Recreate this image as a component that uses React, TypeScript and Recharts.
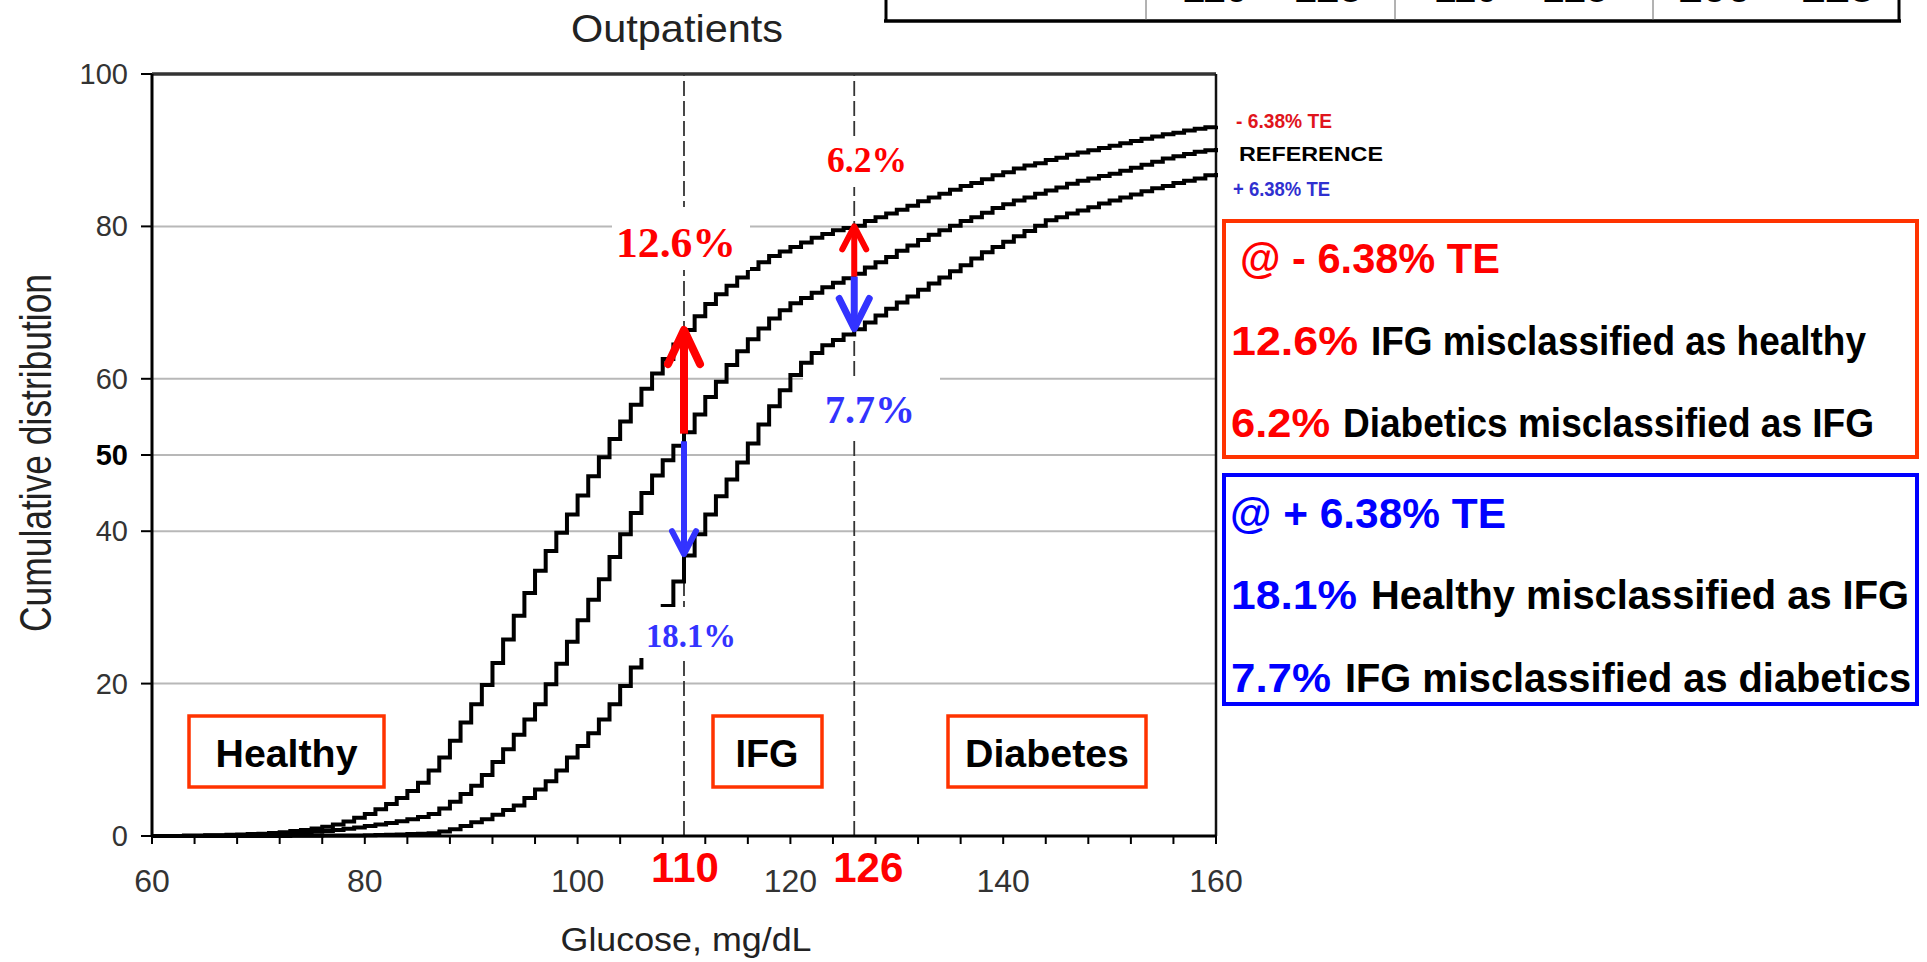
import React from 'react';
import { LineChart, Line, XAxis, YAxis, CartesianGrid, ReferenceLine } from 'recharts';

const SANS = "'Liberation Sans', Arial, Helvetica, sans-serif";
const SERIF = "'Liberation Serif', 'Times New Roman', serif";

// Glucose categories (mg/dL), one step per 1 mg/dL
const glucose = Array.from({ length: 101 }, (_, i) => 60 + i);

// Cumulative distribution (%), index i <-> glucose 60 + i
const minusTE = [
  0, 0, 0, 0.05, 0.05, 0.1, 0.1, 0.15, 0.2, 0.25,
  0.3, 0.4, 0.5, 0.65, 0.8, 1.0, 1.2, 1.5, 1.9, 2.4,
  2.9, 3.5, 4.2, 5.0, 5.9, 7.0, 8.6, 10.3, 12.5, 14.9,
  17.3, 19.8, 22.7, 25.8, 28.9, 31.9, 34.8, 37.4, 39.8, 42.2,
  44.7, 47.2, 49.7, 52.1, 54.4, 56.6, 58.7, 60.7, 62.6, 64.5,
  66.4, 68.2, 69.8, 71.1, 72.2, 73.3, 74.4, 75.3, 76.1, 76.7,
  77.3, 77.9, 78.5, 79.0, 79.5, 79.8, 80.1, 80.7, 81.2, 81.7,
  82.2, 82.7, 83.3, 83.8, 84.3, 84.8, 85.3, 85.7, 86.2, 86.7,
  87.1, 87.6, 88.0, 88.3, 88.7, 89.0, 89.4, 89.7, 90.0, 90.3,
  90.6, 90.9, 91.2, 91.5, 91.8, 92.1, 92.3, 92.6, 92.8, 93.0,
  93.2,
];
const reference = [
  0, 0, 0, 0, 0, 0.05, 0.05, 0.1, 0.1, 0.15,
  0.2, 0.25, 0.3, 0.35, 0.45, 0.55, 0.65, 0.8, 0.95, 1.1,
  1.3, 1.5, 1.7, 1.95, 2.2, 2.5, 2.9, 3.6, 4.5, 5.5,
  6.6, 8.0, 9.7, 11.4, 13.3, 15.3, 17.3, 19.9, 22.6, 25.5,
  28.3, 31.0, 33.7, 36.6, 39.6, 42.4, 45.0, 47.3, 49.3, 51.2,
  53.0, 55.3, 57.6, 59.6, 61.8, 63.6, 65.2, 66.6, 67.9, 69.0,
  69.9, 70.6, 71.3, 72.0, 72.6, 73.2, 73.8, 74.6, 75.3, 76.0,
  76.8, 77.5, 78.2, 78.9, 79.5, 80.1, 80.7, 81.2, 81.8, 82.4,
  82.9, 83.4, 83.8, 84.3, 84.7, 85.1, 85.6, 86.0, 86.3, 86.6,
  86.9, 87.3, 87.7, 88.1, 88.5, 88.9, 89.2, 89.5, 89.8, 90.0,
  90.3,
];
const plusTE = [
  0, 0, 0, 0, 0, 0, 0, 0, 0, 0,
  0, 0, 0, 0.02, 0.03, 0.04, 0.05, 0.06, 0.07, 0.08,
  0.1, 0.12, 0.15, 0.2, 0.25, 0.3, 0.35, 0.6, 0.9, 1.3,
  1.8, 2.2, 2.8, 3.4, 4.0, 5.0, 6.1, 7.2, 8.6, 10.3,
  11.8, 13.5, 15.3, 17.3, 19.7, 22.1, 24.6, 27.2, 30.2, 33.4,
  36.8, 39.6, 42.2, 44.6, 46.8, 49.0, 51.5, 54.0, 56.4, 58.5,
  60.5, 62.1, 63.4, 64.4, 65.1, 65.8, 66.5, 67.4, 68.3, 69.2,
  70.0, 70.8, 71.7, 72.5, 73.3, 74.1, 74.9, 75.8, 76.6, 77.3,
  78.0, 78.7, 79.4, 80.1, 80.8, 81.2, 81.7, 82.1, 82.5, 83.0,
  83.4, 83.8, 84.2, 84.6, 85.0, 85.3, 85.7, 86.0, 86.3, 86.7,
  87.0,
];

const xTicks = [60, 64, 68, 72, 76, 80, 84, 88, 92, 96, 100, 104, 108, 112, 116, 120, 124, 128, 132, 136, 140, 144, 148, 152, 156, 160];
const xLabelTicks = [60, 80, 100, 120, 140, 160];
const yTicks = [0, 20, 40, 50, 60, 80, 100];
const cutoffs = [110, 126];
const cutoffLabels = ['110', '126'];
const cutoffLabelShift = [1, 14];

// Misclassification arrows: glucose cut-off, from curve value to curve value (%)
const arrows = [
  { x: 110, from: 52.8, to: 66.4, color: '#ff0000', w: 8, hw: 16, hh: 34 },
  { x: 110, from: 51.8, to: 37.0, color: '#3333ff', w: 6, hw: 12, hh: 23 },
  { x: 126, from: 73.4, to: 80.0, color: '#ff0000', w: 6, hw: 12, hh: 23 },
  { x: 126, from: 73.4, to: 66.6, color: '#3333ff', w: 7, hw: 15, hh: 30 },
];

const data = glucose.map((g, i) => ({ g, minus: minusTE[i], ref: reference[i], plus: plusTE[i] }));

const makeArrow = (color: string, w: number, hw: number, hh: number) => (p: any) => {
  const { x1, y1, x2, y2 } = p;
  const dir = y2 < y1 ? 1 : -1;
  return (
    <g>
      <line x1={x1} y1={y1} x2={x2} y2={y2 + dir * w * 0.4} stroke={color} strokeWidth={w} />
      <polyline
        points={`${x2 - hw},${y2 + dir * hh} ${x2},${y2} ${x2 + hw},${y2 + dir * hh}`}
        fill="none"
        stroke={color}
        strokeWidth={w}
        strokeLinecap="round"
        strokeLinejoin="round"
      />
    </g>
  );
};

const YTick = (props: any) => {
  const { x, y, payload } = props;
  const bold = payload.value === 50;
  return (
    <text x={x} y={y} dy={10} textAnchor="end" fontFamily={SANS} fontSize={29}
      fontWeight={bold ? 'bold' : 'normal'} fill={bold ? '#000' : '#333'}>
      {payload.value}
    </text>
  );
};

const XTick = (props: any) => {
  const { x, y, payload } = props;
  if (!xLabelTicks.includes(payload.value)) return <g />;
  return (
    <text x={x} y={y} dy={22} textAnchor="middle" fontFamily={SANS} fontSize={32} fill="#333">
      {payload.value}
    </text>
  );
};

const cutLabel = (text: string, shift: number) => (p: any) => {
  const vb = p.viewBox || {};
  return (
    <text x={(vb.x || 0) + shift} y={(vb.y || 0) + (vb.height || 0) + 46} textAnchor="middle"
      fontFamily={SANS} fontSize={42} fontWeight="bold" fill="#ff0000">
      {text}
    </text>
  );
};

const T = ({ x, y, size, color, children, len, anchor = 'start', weight = 'bold', family = SANS }: any) => (
  <text x={x} y={y} fontFamily={family} fontSize={size} fontWeight={weight} fill={color}
    textAnchor={anchor} textLength={len} lengthAdjust="spacingAndGlyphs">
    {children}
  </text>
);

const Overlay = () => (
  <svg width={1927} height={962} style={{ position: 'absolute', left: 0, top: 0, pointerEvents: 'none' }}>
    {/* cut-off table fragment at top right */}
    <line x1={886} y1={0} x2={886} y2={22} stroke="#000" strokeWidth={3} />
    <line x1={1899} y1={0} x2={1899} y2={22} stroke="#000" strokeWidth={3} />
    <line x1={884} y1={21} x2={1901} y2={21} stroke="#000" strokeWidth={3.5} />
    <line x1={1146} y1={0} x2={1146} y2={20} stroke="#666" strokeWidth={1} />
    <line x1={1395} y1={0} x2={1395} y2={20} stroke="#666" strokeWidth={1} />
    <line x1={1653} y1={0} x2={1653} y2={20} stroke="#666" strokeWidth={1} />
    <T x={1272} y={2} size={40} color="#000" anchor="middle" len={180}>110 – 125</T>
    <T x={1521} y={2} size={40} color="#000" anchor="middle" len={174}>110 – 125</T>
    <T x={1776} y={2} size={40} color="#000" anchor="middle" len={197}>100 – 125</T>

    {/* title and axis titles */}
    <T x={677} y={42} size={39} color="#222" anchor="middle" weight="normal" len={212}>Outpatients</T>
    <text x={51} y={453} transform="rotate(-90 51 453)" textAnchor="middle" fontFamily={SANS}
      fontSize={44} fill="#222" textLength={358} lengthAdjust="spacingAndGlyphs">Cumulative distribution</text>
    <T x={686} y={951} size={34} color="#222" anchor="middle" weight="normal" len={251}>Glucose, mg/dL</T>

    {/* series labels */}
    <T x={1236} y={128} size={21} color="#e0141c" len={96}>- 6.38% TE</T>
    <T x={1239} y={161} size={21} color="#000" len={144}>REFERENCE</T>
    <T x={1233} y={196} size={21} color="#3030d0" len={97}>+ 6.38% TE</T>

    {/* region boxes */}
    <rect x={189} y={716} width={195} height={71} fill="#fff" stroke="#ff3300" strokeWidth={3.5} />
    <T x={286.5} y={767} size={39} color="#000" anchor="middle" len={142}>Healthy</T>
    <rect x={713} y={716} width={109} height={71} fill="#fff" stroke="#ff3300" strokeWidth={3.5} />
    <T x={767} y={767} size={39} color="#000" anchor="middle" len={63}>IFG</T>
    <rect x={948} y={716} width={198} height={71} fill="#fff" stroke="#ff3300" strokeWidth={3.5} />
    <T x={1047} y={767} size={39} color="#000" anchor="middle" len={164}>Diabetes</T>

    {/* percentage labels with white backgrounds */}
    <rect x={612} y={207} width={138} height={63} fill="#fff" />
    <T x={676} y={257} size={42} color="#ff0000" anchor="middle" family={SERIF} len={120}>12.6%</T>
    <rect x={822} y={136} width={90} height={51} fill="#fff" />
    <T x={867} y={172} size={35} color="#ff0000" anchor="middle" family={SERIF} len={80}>6.2%</T>
    <rect x={803} y={377} width={137} height={60} fill="#fff" />
    <T x={870} y={423} size={40} color="#3333ff" anchor="middle" family={SERIF} len={90}>7.7%</T>
    <rect x={629} y={607} width={121} height={51} fill="#fff" />
    <T x={691} y={647} size={34} color="#3333ff" anchor="middle" family={SERIF} len={90}>18.1%</T>

    {/* summary boxes on the right */}
    <rect x={1224} y={221} width={693} height={236} fill="#fff" stroke="#ff3300" strokeWidth={4} />
    <T x={1240} y={273} size={42} color="#ff0000" len={260}>@ - 6.38% TE</T>
    <T x={1231} y={355} size={41} color="#ff0000" len={127}>12.6%</T>
    <T x={1371} y={355} size={40} color="#000" len={495}>IFG misclassified as healthy</T>
    <T x={1231} y={437} size={41} color="#ff0000" len={99}>6.2%</T>
    <T x={1343} y={437} size={40} color="#000" len={531}>Diabetics misclassified as IFG</T>

    <rect x={1224} y={475} width={693} height={229} fill="#fff" stroke="#0000ff" strokeWidth={4} />
    <T x={1230} y={528} size={42} color="#0000ff" len={276}>@ + 6.38% TE</T>
    <T x={1231} y={609} size={41} color="#0000ff" len={126}>18.1%</T>
    <T x={1371} y={609} size={40} color="#000" len={538}>Healthy misclassified as IFG</T>
    <T x={1231} y={692} size={41} color="#0000ff" len={100}>7.7%</T>
    <T x={1345} y={692} size={40} color="#000" len={566}>IFG misclassified as diabetics</T>
  </svg>
);

export default function App() {
  return (
    <div style={{ position: 'absolute', left: 0, top: 0, width: 1927, height: 962, background: '#fff' }}>
      <LineChart width={1927} height={962} data={data} margin={{ top: 74, right: 711, bottom: 0, left: 0 }}>
        <CartesianGrid vertical={false} stroke="#b8b8b8" strokeWidth={2} />
        <XAxis
          dataKey="g"
          type="number"
          domain={[60, 160]}
          ticks={xTicks}
          interval={0}
          height={126}
          axisLine={{ stroke: '#000', strokeWidth: 3 }}
          tickLine={{ stroke: '#000', strokeWidth: 2 }}
          tickSize={8}
          tickMargin={26}
          tick={<XTick />}
        />
        <YAxis
          type="number"
          domain={[0, 100]}
          ticks={yTicks}
          interval={0}
          width={152}
          axisLine={{ stroke: '#000', strokeWidth: 3 }}
          tickLine={{ stroke: '#000', strokeWidth: 2 }}
          tickSize={11}
          tickMargin={13}
          tick={<YTick />}
        />
        <ReferenceLine y={100} stroke="#333" strokeWidth={3.5} />
        <ReferenceLine x={160} stroke="#111" strokeWidth={2.5} />
        {cutoffs.map((c, i) => (
          <ReferenceLine key={c} x={c} stroke="#333" strokeWidth={1.8} strokeDasharray="15 5"
            label={cutLabel(cutoffLabels[i], cutoffLabelShift[i])} />
        ))}
        <Line type="stepAfter" dataKey="minus" stroke="#000" strokeWidth={4} dot={false} activeDot={false} isAnimationActive={false} />
        <Line type="stepAfter" dataKey="ref" stroke="#000" strokeWidth={4} dot={false} activeDot={false} isAnimationActive={false} />
        <Line type="stepAfter" dataKey="plus" stroke="#000" strokeWidth={4} dot={false} activeDot={false} isAnimationActive={false} />
        {arrows.map((a, i) => (
          <ReferenceLine key={i} segment={[{ x: a.x, y: a.from }, { x: a.x, y: a.to }]}
            stroke={a.color} strokeWidth={a.w} shape={makeArrow(a.color, a.w, a.hw, a.hh)} />
        ))}
      </LineChart>
      <Overlay />
    </div>
  );
}
